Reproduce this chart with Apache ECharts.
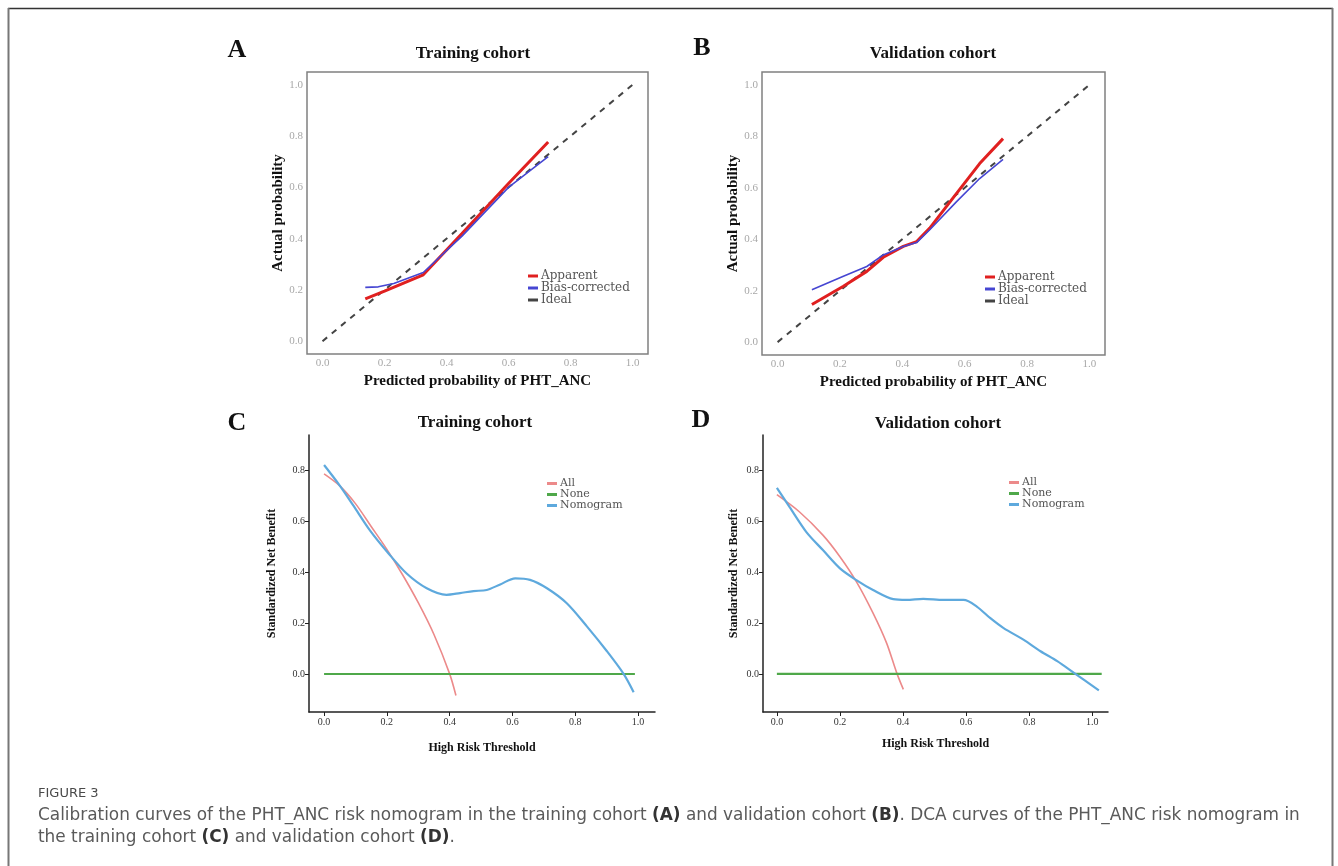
<!DOCTYPE html>
<html><head><meta charset="utf-8">
<script src="https://cdn.jsdelivr.net/npm/echarts@6/dist/echarts.min.js"></script>
<style>html,body{margin:0;padding:0;background:#fff}#c{width:1338px;height:866px}</style>
</head><body><div id="c"></div>
<script>
// ---- Data ----
const ticks01 = [0, 0.2, 0.4, 0.6, 0.8, 1.0];
const ticksNB = [0, 0.2, 0.4, 0.6, 0.8];
const idealX = [0, 1];
const idealY = [0, 1];
// Panel A (training calibration)
const aAppX = [0.138, 0.2, 0.325, 0.45, 0.6, 0.728];
const aAppY = [0.165, 0.195, 0.259, 0.42, 0.615, 0.777];
const aBiasX = [0.138, 0.18, 0.23, 0.325, 0.45, 0.6, 0.68, 0.728];
const aBiasY = [0.21, 0.212, 0.225, 0.268, 0.41, 0.6, 0.675, 0.72];
// Panel B (validation calibration)
const bX = [0.110, 0.211, 0.286, 0.339, 0.403, 0.446, 0.488, 0.574, 0.648, 0.723];
const bAppY = [0.146, 0.217, 0.275, 0.330, 0.372, 0.391, 0.443, 0.578, 0.694, 0.791];
const bBiasY = [0.204, 0.256, 0.294, 0.339, 0.372, 0.387, 0.437, 0.546, 0.636, 0.710];
// Panel C (training DCA)
const cAllX = [0, 0.05, 0.1, 0.15, 0.2, 0.25, 0.3, 0.35, 0.4, 0.42];
const cAllY = [0.787, 0.74, 0.67, 0.58, 0.49, 0.39, 0.28, 0.155, 0.0, -0.085];
const cNoneX = [0, 0.99];
const cNoneY = [0, 0];
const cNomX = [0, 0.05, 0.093, 0.146, 0.204, 0.263, 0.327, 0.39, 0.433, 0.476, 0.518, 0.561, 0.609, 0.656, 0.71, 0.773, 0.837, 0.901, 0.954, 0.986];
const cNomY = [0.822, 0.741, 0.663, 0.565, 0.476, 0.395, 0.337, 0.311, 0.318, 0.326, 0.33, 0.352, 0.376, 0.37, 0.337, 0.278, 0.187, 0.089, 0.0, -0.072];
// Panel D (validation DCA)
const dAllX = [0, 0.072, 0.146, 0.2, 0.252, 0.305, 0.348, 0.38, 0.401];
const dAllY = [0.705, 0.637, 0.546, 0.461, 0.363, 0.239, 0.121, 0.004, -0.061];
const dNoneX = [0, 1.03];
const dNoneY = [0, 0];
const dNomX = [0, 0.04, 0.093, 0.146, 0.2, 0.252, 0.305, 0.369, 0.411, 0.464, 0.528, 0.592, 0.634, 0.677, 0.719, 0.783, 0.836, 0.889, 0.942, 1.021];
const dNomY = [0.732, 0.657, 0.559, 0.487, 0.415, 0.369, 0.33, 0.294, 0.291, 0.295, 0.291, 0.291, 0.265, 0.219, 0.18, 0.134, 0.089, 0.05, 0.004, -0.065];

const zip = (xs, ys) => xs.map((x, i) => [x, ys[i]]);
const SERIF = '"Liberation Serif", "DejaVu Serif", serif';
const WSERIF = '"DejaVu Serif", serif';
const SANS = '"DejaVu Sans", "Open Sans", sans-serif';

const C_APP = '#e02020', C_BIAS = '#4646d2', C_IDEAL = '#444444';
const C_ALL = '#ec8a8a', C_NONE = '#4fa84a', C_NOM = '#5ea9dd';

function calAxisX(gi) {
  return {
    type: 'value', gridIndex: gi, min: -0.05, max: 1.05,
    axisLine: { show: false }, axisTick: { show: false }, splitLine: { show: false },
    axisLabel: { customValues: ticks01, formatter: v => v.toFixed(1), color: '#a8a8a8', fontSize: 11, fontFamily: SERIF, margin: 4 },
    name: 'Predicted probability of PHT_ANC', nameLocation: 'middle', nameGap: 20,
    nameTextStyle: { fontFamily: SERIF, fontWeight: 'bold', fontSize: 15, color: '#111' }
  };
}
function calAxisY(gi) {
  return {
    type: 'value', gridIndex: gi, min: -0.05, max: 1.05,
    axisLine: { show: false }, axisTick: { show: false }, splitLine: { show: false },
    axisLabel: { customValues: ticks01, formatter: v => v.toFixed(1), color: '#a8a8a8', fontSize: 11, fontFamily: SERIF, margin: 4 },
    name: 'Actual probability', nameLocation: 'middle', nameGap: 21,
    nameTextStyle: { fontFamily: SERIF, fontWeight: 'bold', fontSize: 15, color: '#111' }
  };
}
function dcaAxisX(gi, min, max, gap) {
  return {
    type: 'value', gridIndex: gi, min: min, max: max,
    axisLine: { show: true, onZero: false, lineStyle: { color: '#222', width: 1.5 } },
    axisTick: { show: true, customValues: ticks01, length: 4, lineStyle: { color: '#222' } },
    splitLine: { show: false },
    axisLabel: { customValues: ticks01, formatter: v => v.toFixed(1), color: '#333', fontSize: 10, fontFamily: SERIF, margin: 5 },
    name: 'High Risk Threshold', nameLocation: 'middle', nameGap: gap,
    nameTextStyle: { fontFamily: SERIF, fontWeight: 'bold', fontSize: 12, color: '#111' }
  };
}
function dcaAxisY(gi, gap) {
  return {
    type: 'value', gridIndex: gi, min: -0.15, max: 0.94,
    axisLine: { show: true, onZero: false, lineStyle: { color: '#222', width: 1.5 } },
    axisTick: { show: true, customValues: ticksNB, length: 4, lineStyle: { color: '#222' } },
    splitLine: { show: false },
    axisLabel: { customValues: ticksNB, formatter: v => v.toFixed(1), color: '#333', fontSize: 10, fontFamily: SERIF, margin: 4 },
    name: 'Standardized Net Benefit', nameLocation: 'middle', nameGap: gap,
    nameTextStyle: { fontFamily: SERIF, fontWeight: 'bold', fontSize: 12, color: '#111' }
  };
}
function line(name, data, xi, color, width, extra) {
  return Object.assign({
    type: 'line', name: name, data: data, xAxisIndex: xi, yAxisIndex: xi,
    showSymbol: false, symbol: 'none', silent: true, animation: false,
    lineStyle: { color: color, width: width }, itemStyle: { color: color }
  }, extra || {});
}
function legendAt(left, top, names, fs) {
  return {
    left: left, top: top, orient: 'vertical', data: names, icon: 'rect',
    itemWidth: 10, itemHeight: 3, itemGap: 0, padding: 0, selectedMode: false,
    textStyle: { fontFamily: WSERIF, fontSize: fs, lineHeight: 9, color: '#555', padding: [0, 0, 0, -2] }
  };
}
function txt(x, y, text, font, fill, align) {
  return { type: 'text', x: x, y: y, silent: true,
    style: { text: text, font: font, fill: fill || '#111', align: align || 'center', verticalAlign: 'middle' } };
}

const option = {
  backgroundColor: '#fff',
  animation: false,
  grid: [
    { left: 307, top: 72, width: 341, height: 282, show: true, borderColor: '#808080', borderWidth: 1.5, backgroundColor: '#fff' },
    { left: 762, top: 72, width: 343, height: 283, show: true, borderColor: '#808080', borderWidth: 1.5, backgroundColor: '#fff' },
    { left: 309, top: 435, width: 346, height: 277 },
    { left: 763, top: 435, width: 345, height: 277 }
  ],
  xAxis: [calAxisX(0), calAxisX(1), dcaAxisX(2, -0.048, 1.054, 30), dcaAxisX(3, -0.044, 1.05, 26)],
  yAxis: [calAxisY(0), calAxisY(1), dcaAxisY(2, 31), dcaAxisY(3, 23)],
  legend: [
    legendAt(528, 270, ['Apparent', 'Bias-corrected', 'Ideal'], 12),
    legendAt(985, 271, ['Apparent', 'Bias-corrected', 'Ideal'], 12),
    legendAt(547, 478, ['All', 'None', 'Nomogram'], 11),
    legendAt(1009, 477, ['All', 'None', 'Nomogram'], 11)
  ],
  series: [
    line('Ideal', zip(idealX, idealY), 0, C_IDEAL, 2, { lineStyle: { color: C_IDEAL, width: 2, type: [6, 6] }, z: 1 }),
    line('Bias-corrected', zip(aBiasX, aBiasY), 0, C_BIAS, 1.6, { z: 3 }),
    line('Apparent', zip(aAppX, aAppY), 0, C_APP, 3, { z: 2 }),
    line('Ideal', zip(idealX, idealY), 1, C_IDEAL, 2, { lineStyle: { color: C_IDEAL, width: 2, type: [6, 6] }, z: 1 }),
    line('Bias-corrected', zip(bX, bBiasY), 1, C_BIAS, 1.6, { z: 3 }),
    line('Apparent', zip(bX, bAppY), 1, C_APP, 3, { z: 2 }),
    line('All', zip(cAllX, cAllY), 2, C_ALL, 1.6, { smooth: 0.3 }),
    line('None', zip(cNoneX, cNoneY), 2, C_NONE, 2),
    line('Nomogram', zip(cNomX, cNomY), 2, C_NOM, 2.2, { smooth: 0.3 }),
    line('All', zip(dAllX, dAllY), 3, C_ALL, 1.6, { smooth: 0.3 }),
    line('None', zip(dNoneX, dNoneY), 3, C_NONE, 2.2),
    line('Nomogram', zip(dNomX, dNomY), 3, C_NOM, 2.2, { smooth: 0.3 })
  ],
  graphic: [
    { type: 'line', silent: true, shape: { x1: 8, y1: 8.5, x2: 1333, y2: 8.5 }, style: { stroke: '#333', lineWidth: 1.5 } },
    { type: 'line', silent: true, shape: { x1: 8.5, y1: 8, x2: 8.5, y2: 866 }, style: { stroke: '#777', lineWidth: 2 } },
    { type: 'line', silent: true, shape: { x1: 1332.5, y1: 8, x2: 1332.5, y2: 866 }, style: { stroke: '#777', lineWidth: 2 } },
    txt(237, 50, 'A', 'bold 26px ' + SERIF),
    txt(702, 48, 'B', 'bold 26px ' + SERIF),
    txt(237, 423, 'C', 'bold 26px ' + SERIF),
    txt(701, 420, 'D', 'bold 26px ' + SERIF),
    txt(473, 54, 'Training cohort', 'bold 17px ' + SERIF),
    txt(933, 54, 'Validation cohort', 'bold 17px ' + SERIF),
    txt(475, 423, 'Training cohort', 'bold 17px ' + SERIF),
    txt(938, 424, 'Validation cohort', 'bold 17px ' + SERIF),
    txt(38, 794, 'FIGURE 3', '13px ' + SANS, '#4a4a4a', 'left'),
    { type: 'text', x: 38, y: 816, silent: true, style: {
      text: 'Calibration curves of the PHT_ANC risk nomogram in the training cohort {b|(A)} and validation cohort {b|(B)}. DCA curves of the PHT_ANC risk nomogram in',
      font: '16.9px ' + SANS, fill: '#5a5a5a', align: 'left', verticalAlign: 'middle',
      rich: { b: { font: 'bold 16.9px ' + SANS, fill: '#333' } } } },
    { type: 'text', x: 38, y: 838, silent: true, style: {
      text: 'the training cohort {b|(C)} and validation cohort {b|(D)}.',
      font: '16.9px ' + SANS, fill: '#5a5a5a', align: 'left', verticalAlign: 'middle',
      rich: { b: { font: 'bold 16.9px ' + SANS, fill: '#333' } } } }
  ]
};
const chart = echarts.init(document.getElementById('c'), null, { renderer: 'canvas' });
chart.setOption(option);
</script></body></html>
